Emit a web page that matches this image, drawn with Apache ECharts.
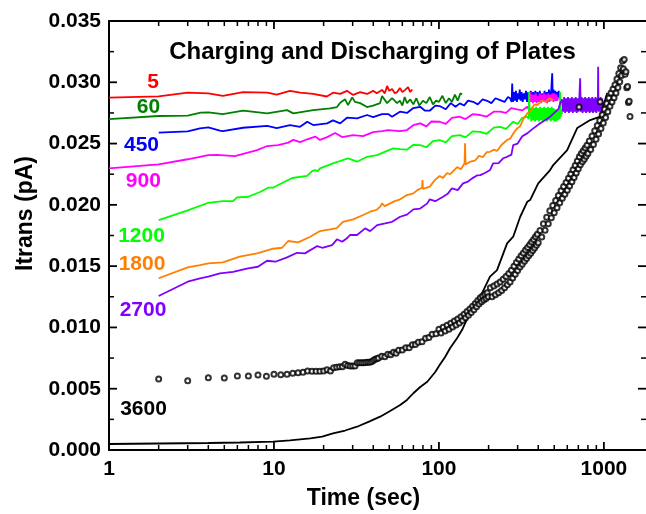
<!DOCTYPE html>
<html><head><meta charset="utf-8">
<script src="https://cdn.jsdelivr.net/npm/echarts@6/dist/echarts.min.js"></script>
<style>html,body{margin:0;padding:0;background:#fff}#c{width:646px;height:514px}</style>
</head><body><div id="c"></div>
<script>
const FONT = '"Liberation Sans", Arial, Helvetica, sans-serif';

// ---- data ----
const red5 = [[1,0.02875],[2,0.02885],[3,0.02915],[4,0.0291],[4.9,0.0289],[6.5,0.0292],[9.1,0.02915],[10.4,0.029],[12.5,0.0293],[14.4,0.02915],[17.3,0.02905],[20.9,0.02884],[22.8,0.02915],[25.2,0.02905],[27.7,0.0293],[30.2,0.02897],[33.3,0.0292],[36.7,0.02905],[39.9,0.0293],[42,0.0291],[45.2,0.02938],[47,0.0291],[48.5,0.0297],[50,0.0293],[52,0.02946],[54,0.0291],[55.8,0.0292],[58,0.02954],[60,0.0292],[62.4,0.02938],[65,0.0296],[67,0.0292],[68.8,0.02942]];
const green60 = [[1,0.027],[2,0.02725],[3,0.02728],[3.6,0.02752],[4,0.02755],[4.9,0.02741],[6.5,0.02768],[9.1,0.02746],[12,0.02773],[13.1,0.02746],[17.3,0.02773],[21.9,0.02787],[24.1,0.02798],[25.2,0.02833],[27,0.02861],[28.1,0.02814],[29.8,0.02877],[31,0.0284],[33.3,0.0283],[36.7,0.02798],[39.9,0.02809],[44,0.0283],[45.2,0.02888],[48.5,0.0283],[52,0.02871],[55.8,0.0283],[58,0.0285],[60,0.0281],[62,0.0288],[64,0.0283],[67,0.0286],[70,0.0282],[73,0.0287],[76,0.0281],[80,0.0285],[84,0.0283],[88,0.0288],[92,0.0282],[96,0.0285],[100,0.0284],[105,0.0289],[110,0.0283],[115,0.0287],[120,0.0284],[125,0.029],[130,0.0285],[135,0.0291],[138,0.029]];
const blue450 = [[2,0.02589],[3,0.026],[3.56,0.02624],[4,0.02633],[4.7,0.02605],[4.9,0.02602],[6.5,0.02629],[9.1,0.02645],[10.4,0.02627],[12.5,0.02651],[14.4,0.02637],[15.9,0.02678],[17.3,0.02651],[21,0.02665],[22.8,0.02689],[25.2,0.02665],[27.7,0.02711],[31.9,0.02706],[36.7,0.02733],[39.9,0.02716],[45.2,0.02741],[49.2,0.02741],[52,0.02719],[58,0.0276],[64,0.0275],[70,0.0279],[77,0.028],[82,0.0277],[88,0.02768],[95,0.0281],[101,0.02806],[110,0.0278],[118,0.0283],[126,0.028],[134,0.02828],[142,0.0281],[150,0.0285],[161,0.02841],[172,0.0282],[184,0.0286],[196,0.02849],[208,0.0283],[220,0.0287],[235,0.02855],[250,0.0284],[262,0.0288],[270,0.02869],[276,0.0284],
  [278,0.0299],[281,0.0284],[285,0.0292],[289,0.0285],[293,0.0293],[297,0.0284],[301,0.0291],[305,0.0286],[309,0.0294],[313,0.0285],[317,0.0292],[322,0.0284],[327,0.0291],[332,0.0286],[337,0.0293],[342,0.0284],[348,0.0292],[354,0.0285],[360,0.0293],[366,0.0286],[372,0.0292],[378,0.0284],[384,0.0293],[390,0.0286],[396,0.0292],[402,0.0285],[409,0.0293],[416,0.0284],[423,0.0291],[430,0.0286],[437,0.0293],[444,0.0285],[451,0.0292],[458,0.0286],[465,0.0294],[472,0.0287],[479,0.0292],[486,0.03073],[490,0.0288],[496,0.0294],[502,0.0286],[508,0.0293],[514,0.0285],[520,0.0292],[526,0.0287],[532,0.0293],[538,0.0287],[543,0.029]];
const magenta900 = [[1,0.02298],[2,0.02331],[3,0.02372],[4,0.02406],[4.5,0.02408],[5.8,0.02398],[7.9,0.02447],[9.1,0.0248],[10.6,0.02488],[12.2,0.02508],[13.1,0.0253],[14.4,0.02512],[15.9,0.02535],[17.8,0.02557],[19,0.0253],[21,0.02553],[23.5,0.02586],[25.9,0.02553],[30.2,0.02569],[34.7,0.02561],[39.9,0.02594],[45.2,0.02602],[49.2,0.0261],[58,0.02602],[64,0.0261],[70,0.0265],[77,0.02665],[84,0.0264],[90,0.0268],[101,0.02678],[110,0.0266],[120,0.0271],[134,0.02719],[145,0.027],[160,0.0274],[178,0.02733],[195,0.0272],[215,0.0276],[235,0.0276],[255,0.0275],[275,0.0279],[298,0.02779],[320,0.0277],[343,0.028],[350,0.0278],
  [357,0.0292],[361,0.0284],[366,0.029],[371,0.0283],[376,0.029],[381,0.0284],[386,0.0291],[391,0.0283],[397,0.0289],[403,0.0284],[409,0.0291],[415,0.0283],[421,0.029],[427,0.0284],[433,0.0291],[439,0.0284],[446,0.029],[453,0.0283],[460,0.0291],[467,0.0284],[474,0.029],[481,0.0285],[488,0.0291],[495,0.0284],[502,0.0291],[509,0.0285],[516,0.029],[522,0.0285],[528,0.0288]];
const lime1200 = [[2,0.01876],[3,0.01955],[4,0.02017],[4.9,0.02031],[5.65,0.02031],[5.97,0.02061],[6.96,0.02066],[8.24,0.02105],[9.21,0.0214],[9.87,0.0214],[10.9,0.0217],[12.9,0.02219],[15.9,0.02237],[17,0.02276],[17.8,0.02284],[18.5,0.02276],[19,0.02298],[22.8,0.02339],[26.2,0.02366],[28.1,0.02379],[31.9,0.02352],[36.7,0.02392],[42.2,0.02406],[48.5,0.02441],[52.8,0.02461],[58.2,0.02455],[64,0.0245],[70,0.0249],[77,0.02488],[84,0.0247],[92,0.0252],[101,0.02529],[110,0.0251],[120,0.0256],[134,0.02569],[145,0.0255],[160,0.026],[178,0.02596],[195,0.0258],[215,0.0263],[235,0.02637],[255,0.0262],[282,0.02678],[300,0.0266],[320,0.0271],[343,0.02719],[350,0.027],
  [352,0.0292],[355,0.0272],[359,0.0279],[363,0.0268],[368,0.028],[373,0.0269],[378,0.0279],[383,0.0268],[388,0.028],[393,0.0269],[398,0.0279],[404,0.0268],[410,0.028],[416,0.0269],[422,0.0279],[428,0.0268],[434,0.028],[440,0.0269],[446,0.0279],[452,0.0268],[458,0.028],[464,0.0269],[470,0.0279],[476,0.0268],[482,0.028],[488,0.0269],[494,0.0279],[500,0.0268],[507,0.0278],[514,0.0268],[521,0.0278],[528,0.0269],[535,0.0277],[540,0.027],[543,0.0292],[548,0.0272],[553,0.0278],[558,0.0274]];
const orange1800 = [[2,0.01401],[3,0.0149],[3.56,0.01509],[4,0.01523],[4.9,0.01531],[6.2,0.01577],[7.9,0.01604],[9.87,0.01642],[11.2,0.0165],[12.2,0.01705],[14,0.01694],[16.6,0.0174],[19,0.01786],[21.9,0.018],[24,0.0181],[26.2,0.01862],[30.2,0.01882],[34.7,0.01917],[38.3,0.01944],[42,0.0196],[44,0.01985],[45.2,0.02012],[47,0.0199],[50.6,0.02012],[54,0.0203],[58.2,0.02045],[64,0.0208],[70,0.02094],[74,0.0212],[79,0.0214],[79.5,0.02202],[80,0.0213],[88,0.02148],[94,0.022],[101,0.02235],[106,0.0222],[112,0.0226],[117,0.0225],[122,0.02276],[129,0.02308],[136,0.0229],[143,0.0234],[144,0.02502],[145,0.0233],[155,0.02352],[165,0.0236],[175,0.024],[185,0.0239],[195,0.0243],[204,0.02433],[215,0.0245],[225,0.0244],[240,0.0249],[259,0.02529],[270,0.0254],[285,0.0259],[298,0.02624],[310,0.0264],[325,0.027],[343,0.02746],[360,0.0277],[380,0.0282],[394,0.02814],[420,0.0285],[445,0.0284],[470,0.0287],[493,0.02855]];
const purple2700 = [[2,0.01256],[3,0.01373],[3.56,0.01401],[4,0.01414],[4.7,0.01441],[5.65,0.01454],[6.96,0.01482],[8,0.01495],[9.08,0.01544],[10.2,0.01536],[12,0.01572],[13.8,0.01609],[15.4,0.01604],[18.3,0.01664],[19.6,0.0165],[22.5,0.01672],[24.1,0.01719],[25.9,0.01699],[27.7,0.01727],[28.9,0.01754],[31.9,0.01754],[35.7,0.01808],[38.3,0.01786],[42.2,0.01835],[47.2,0.01849],[52,0.01862],[58.2,0.01903],[64,0.0192],[70,0.01963],[77,0.0197],[85,0.02012],[88,0.02045],[95,0.0203],[106,0.02066],[113,0.0209],[120,0.02135],[130,0.0212],[140,0.02175],[150,0.0219],[159,0.02216],[170,0.0224],[178,0.02243],[190,0.0226],[204,0.02284],[213,0.02339],[230,0.0234],[245,0.0238],[259,0.02392],[275,0.0241],[282,0.02488],[300,0.025],[320,0.0256],[343,0.02583],[370,0.0262],[411,0.02665],[440,0.0269],[472,0.02719],[500,0.0275],[530,0.0278],[543,0.02828],
  [558,0.0286],[566,0.0276],[574,0.0288],[582,0.0275],[590,0.0287],[598,0.0276],[606,0.0288],[614,0.0275],[622,0.0287],[630,0.0276],[639,0.0288],[648,0.0275],[657,0.0287],[666,0.0276],[675,0.0288],[684,0.0275],[693,0.0287],[702,0.0276],[710,0.0288],[718,0.03032],[724,0.0276],[733,0.0288],[742,0.0275],[751,0.0287],[760,0.0276],[770,0.0288],[780,0.0275],[790,0.0287],[800,0.0276],[810,0.0288],[820,0.0275],[830,0.0287],[840,0.0276],[850,0.0288],[860,0.0275],[870,0.0287],[880,0.0276],[890,0.0288],[900,0.0275],[910,0.0287],[918,0.0277],[923,0.03127],[928,0.0276],[937,0.0287],[946,0.0276],[955,0.0288],[964,0.0276],[973,0.0287],[982,0.0277],[990,0.0283]];
const black3600 = [[1,0.00049],[2,0.00053],[4,0.00057],[6.2,0.00061],[9.9,0.00069],[12.5,0.00078],[16.6,0.00095],[19.6,0.0011],[22.8,0.00136],[27,0.00159],[31.9,0.0019],[38.3,0.00236],[44,0.00272],[50.6,0.00318],[58.2,0.00367],[64,0.00408],[70,0.00463],[77,0.00514],[85,0.00557],[95,0.00636],[101,0.00693],[109,0.00759],[117,0.00832],[129,0.00914],[138,0.00979],[155,0.01126],[178,0.0125],[204,0.01414],[225,0.01468],[259,0.01686],[282,0.0174],[311,0.01903],[343,0.02025],[357,0.02039],[400,0.02175],[472,0.02284],[493,0.02325],[599,0.02447],[625,0.02502],[689,0.02627],[826,0.02692],[949,0.02719],[1047,0.02912]];
const circT = [2,3,4,5,6,7,8,9,10,11,12,13,14,15,16,17,18,19,20,21,22,23,24,25,26,27,28,29,30,31,32,33,34,35,36,37,38,39,40,41,42,43,
  45,47,49,51,53,55,57,60,63,66,69,72,75,79,83,87,91,96,
  100,103,106,109,112,115,118,121,124,127,130,133,136,139,142,145,148,151,154,157,160,163,166,169,172,175,178,181,184,187,190,193,196,199,
  205,210,215,220,225,230,235,240,245,250,255,260,265,270,275,280,285,290,295,300,305,310,315,320,325,330,335,340,345,350,355,360,365,370,375,380,385,390,395,400,
  410,420,430,440,450,460,470,480,490,500,510,520,530,540,550,560,570,580,590,600,610,620,630,640,650,660,670,680,690,700,710,720,730,740,750,760,770,780,790,800,
  816,832,848,864,880,896,912,928,944,960,976,992,1008,1024,1040,1056,1072,1088,1104,1120,1136,1152,1168,1184,1200,1216,1232,1248,1264,1280,1296,1312,1328,1344,1360,1376,1392,1408,1424,1440,
  707,949];
const circV = [0.00579,0.00565,0.0059,0.00587,0.00604,0.00604,0.00612,0.00601,0.00617,0.00614,0.00617,0.00626,0.00631,0.00634,0.00644,0.00642,0.00642,0.00642,0.00644,0.00655,0.00644,0.00671,0.00675,0.00679,0.00679,0.00699,0.0069,0.00685,0.00685,0.00685,0.00712,0.00712,0.00712,0.00712,0.00714,0.00715,0.00715,0.0072,0.0073,0.0074,0.00745,0.0075,
  0.00765,0.0076,0.00781,0.00778,0.00797,0.0079,0.00814,0.00815,0.00834,0.00835,0.00858,0.0086,0.00879,0.00884,0.00911,0.00917,0.00944,0.00949,
  0.00986,0.00954,0.01002,0.0097,0.01018,0.00986,0.01034,0.01003,0.01052,0.0102,0.01069,0.01037,0.01087,0.01057,0.01108,0.01079,0.0113,0.011,0.01151,0.01121,0.01172,0.01144,0.01196,0.01168,0.0122,0.01192,0.01243,0.0121,0.01257,0.01224,0.01271,0.01237,0.01283,0.0125,
  0.01323,0.01251,0.01339,0.01267,0.01354,0.01282,0.0137,0.01301,0.01393,0.01324,0.01416,0.01348,0.0144,0.01371,0.01467,0.01403,0.01499,0.01434,0.01529,0.01464,0.01558,0.01492,0.01584,0.01516,0.01608,0.0154,0.01631,0.01562,0.01653,0.01584,0.01675,0.01606,0.01697,0.01627,0.01718,0.01648,0.01739,0.0167,0.0176,0.01691,
  0.01791,0.01738,0.01845,0.01792,0.01898,0.01845,0.01952,0.01894,0.01995,0.01935,0.02036,0.01976,0.02077,0.02018,0.02116,0.02053,0.0215,0.02086,0.02183,0.0212,0.02217,0.02154,0.02251,0.02188,0.02286,0.02224,0.02321,0.02259,0.02357,0.02294,0.02392,0.02328,0.02419,0.02351,0.02442,0.02373,0.02464,0.02396,0.02487,0.02419,
  0.0252,0.02451,0.02562,0.02493,0.02604,0.02536,0.02647,0.02578,0.02689,0.02622,0.02735,0.02667,0.0278,0.02713,0.02826,0.02759,0.02872,0.02805,0.02913,0.02839,0.02946,0.02873,0.0298,0.02913,0.03026,0.02958,0.03071,0.03004,0.03119,0.03056,0.03173,0.0311,0.03185,0.03065,0.03085,0.02955,0.02965,0.02835,0.02845,0.0272,
  0.02798,0.02841];

const seriesNames = ['5','60','450','900','1200','1800','2700','3600'];
const seriesColors = ['#ff0000','#008000','#0000ff','#ff00ff','#00ff00','#ff8000','#8000ff','#000000'];
const labelPos = [[1.85,0.02998],[1.736,0.02798],[1.574,0.02484],[1.615,0.02189],[1.574,0.01746],[1.585,0.01515],[1.607,0.01138],[1.619,0.00334]];
const xMajor = [1,10,100,1000];
const xMinor = [2,3,4,5,6,7,8,9,20,30,40,50,60,70,80,90,200,300,400,500,600,700,800,900];
const yMajor = [0,0.005,0.01,0.015,0.02,0.025,0.03,0.035];
const yMinor = [0.0025,0.0075,0.0125,0.0175,0.0225,0.0275,0.0325];
const xMin = 1, xMax = 1800, yMin = 0, yMax = 0.035, yStep = 0.005;

// ---- chart ----
const lineData = [red5, green60, blue450, magenta900, lime1200, orange1800, purple2700, black3600];
const chart = echarts.init(document.getElementById('c'), null, {renderer:'canvas'});

function xAx(pos, showLabel) {
  return {
    type:'log', logBase:10, min:xMin, max:xMax, position:pos, gridIndex:0,
    axisLine:{show:true, onZero:false, lineStyle:{color:'#000', width:2}},
    axisTick:{show:false},
    axisLabel:{show:showLabel, customValues:xMajor, margin:9, color:'#000', fontSize:21, fontWeight:'bold', fontFamily:FONT,
      formatter: v => String(Math.round(v))},
    splitLine:{show:false}, minorTick:{show:false}, minorSplitLine:{show:false}
  };
}
function yAx(pos, showLine, showLabel) {
  return {
    type:'value', min:yMin, max:yMax, interval:yStep, position:pos, gridIndex:0,
    axisLine:{show:showLine, onZero:false, lineStyle:{color:'#000', width:2}},
    axisTick:{show:false}, minorTick:{show:false},
    axisLabel:{show:showLabel, margin:8, color:'#000', fontSize:21, fontWeight:'bold', fontFamily:FONT,
      formatter: v => v.toFixed(3)},
    splitLine:{show:false}, minorSplitLine:{show:false}
  };
}

// ticks drawn inward through the axis scales
function tickSeries(vals, side, len, w) {
  const data = vals.map(v => (side === 'bottom') ? [v, yMin] : (side === 'top') ? [v, yMax] : (side === 'left') ? [xMin, v] : [xMax, v]);
  return {
    type:'custom', xAxisIndex:0, yAxisIndex:0, data: data, clip:false, silent:true, animation:false, z:40,
    renderItem: (params, api) => {
      const p = api.coord([api.value(0), api.value(1)]);
      let q;
      if (side === 'bottom') q = [p[0], p[1] - len];
      else if (side === 'top') q = [p[0], p[1] + len];
      else if (side === 'left') q = [p[0] + len, p[1]];
      else q = [p[0] - len, p[1]];
      return {type:'line', shape:{x1:p[0], y1:p[1], x2:q[0], y2:q[1]}, style:{stroke:'#000', lineWidth:w}};
    }
  };
}

const series = lineData.map((d, i) => ({
  type:'line', name:seriesNames[i], data:d, xAxisIndex:0, yAxisIndex:0,
  showSymbol:false, symbol:'none', animation:false, clip:true,
  lineStyle:{color:seriesColors[i], width: 1.8}, itemStyle:{color:seriesColors[i]},
  z: 2 + i,
  markPoint:{symbol:'circle', symbolSize:0, silent:true, animation:false,
    data:[{coord:labelPos[i], value:seriesNames[i]}],
    label:{show:true, position:'inside', formatter:seriesNames[i], color:seriesColors[i],
      fontSize:21, fontWeight:'bold', fontFamily:FONT}}
}));
series.push({
  type:'scatter', name:'3600 circles', xAxisIndex:0, yAxisIndex:0, animation:false, z:20,
  data: circT.map((t, i) => [t, circV[i]]),
  symbol:'emptyCircle', symbolSize:5,
  itemStyle:{color:'#000', borderColor:'#000', borderWidth:1}
});
series.push(tickSeries(xMajor, 'bottom', 8, 1.8), tickSeries(xMinor, 'bottom', 5, 1.5),
            tickSeries(xMajor, 'top', 8, 1.8), tickSeries(xMinor, 'top', 5, 1.5),
            tickSeries(yMajor, 'left', 8, 1.8), tickSeries(yMinor, 'left', 5, 1.5),
            tickSeries(yMajor, 'right', 8, 1.8), tickSeries(yMinor, 'right', 5, 1.5));

chart.setOption({
  animation:false,
  backgroundColor:'#fff',
  grid:{left:109, top:21, width:537, height:429, containLabel:false},
  xAxis:[xAx('bottom', true), xAx('top', false)],
  yAxis:[yAx('left', true, true), yAx('right', false, false)],
  series: series,
  graphic:[
    {type:'text', x:372.5, y:52, style:{text:'Charging and Discharging of Plates', fontSize:24, fontWeight:'bold', fontFamily:FONT, fill:'#000', align:'center', verticalAlign:'middle'}},
    {type:'text', x:363.5, y:499, style:{text:'Time (sec)', fontSize:23, fontWeight:'bold', fontFamily:FONT, fill:'#000', align:'center', verticalAlign:'middle'}},
    {type:'text', x:26, y:213.5, rotation:Math.PI/2, style:{text:'Itrans (pA)', fontSize:23, fontWeight:'bold', fontFamily:FONT, fill:'#000', align:'center', verticalAlign:'middle'}}
  ]
});
</script></body></html>
